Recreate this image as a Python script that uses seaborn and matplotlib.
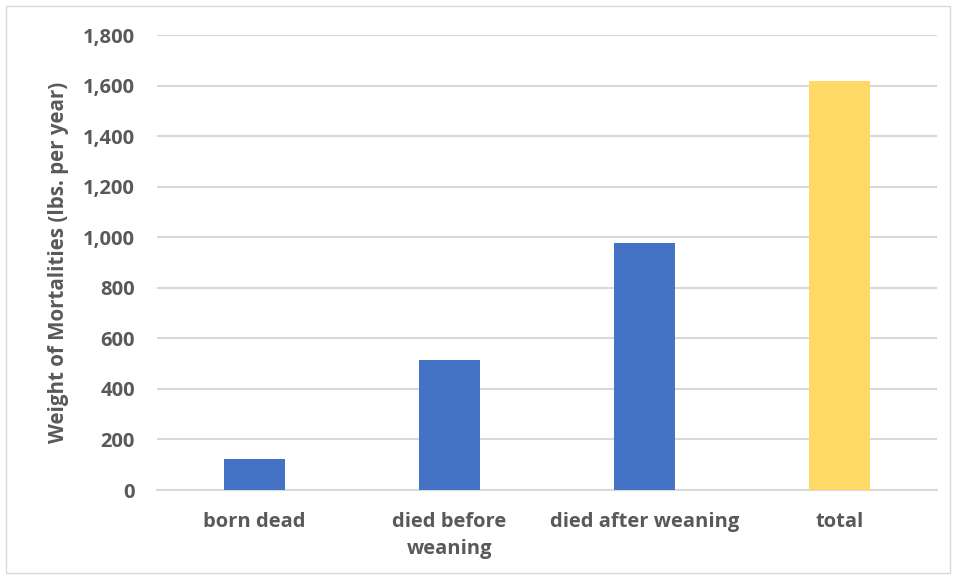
import pandas as pd
import matplotlib.pyplot as plt
import seaborn as sns
from matplotlib.patches import Rectangle

# values
categories = ["born dead", "died before\nweaning", "died after weaning", "total"]
weights = [121, 515, 977, 1618]
bar_colors = ["#4472C4", "#4472C4", "#4472C4", "#FFD966"]

df = pd.DataFrame({"category": categories, "weight": weights})

sns.set_style("white")
plt.rcParams["font.family"] = ["Open Sans", "DejaVu Sans"]

text_col = "#595959"
grid_col = "#D9D9D9"

fig = plt.figure(figsize=(9.56, 5.78), dpi=100)
ax = fig.add_axes([0.1642, 0.1522, 0.8158, 0.7872])

sns.barplot(data=df, x="category", y="weight", hue="category",
            palette=bar_colors, width=0.31, legend=False, ax=ax,
            saturation=1, linewidth=0, zorder=3)

ax.set_ylim(0, 1800)
ax.set_yticks(range(0, 1801, 200))
ax.set_yticklabels([f"{v:,}" for v in range(0, 1801, 200)])
ax.set_xlim(-0.5, 3.5)

ax.yaxis.grid(True, color=grid_col, linewidth=1.5, zorder=0)
ax.set_axisbelow(True)
for s in ["top", "right", "left"]:
    ax.spines[s].set_visible(False)
ax.spines["bottom"].set_color(grid_col)
ax.spines["bottom"].set_linewidth(1.5)

ax.tick_params(axis="both", length=0, colors=text_col, labelsize=14.5)
ax.tick_params(axis="y", pad=16)
ax.tick_params(axis="x", pad=16)
for lbl in ax.get_xticklabels() + ax.get_yticklabels():
    lbl.set_fontweight("bold")
    lbl.set_color(text_col)
    lbl.set_linespacing(1.45)

ax.set_xlabel("")
ax.set_ylabel("Weight of Mortalities (lbs. per year)", fontsize=14.8,
              fontweight="bold", color=text_col, labelpad=10)

# light frame around the whole chart
fig.patches.append(Rectangle((0.006, 0.008), 0.988, 0.982, transform=fig.transFigure,
                             fill=False, edgecolor="#D9D9D9", linewidth=1))

fig.savefig("out.png", dpi=100)
